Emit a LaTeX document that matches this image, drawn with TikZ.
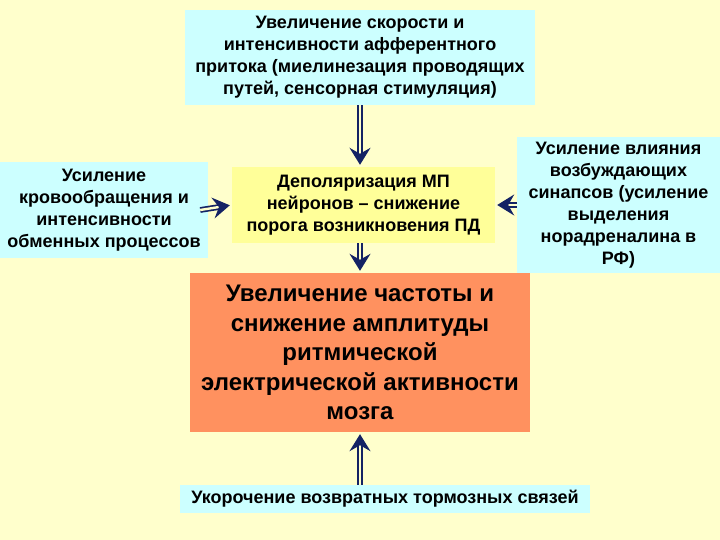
\documentclass[tikz,border=0pt]{standalone}
\usepackage{fontspec}
\setmainfont{Liberation Sans}
\definecolor{bgyellow}{RGB}{255,255,204}
\definecolor{boxcyan}{RGB}{204,255,255}
\definecolor{boxyellow}{RGB}{255,255,153}
\definecolor{boxorange}{RGB}{255,145,95}
\definecolor{arrownavy}{RGB}{20,35,100}
\usetikzlibrary{positioning,arrows.meta,calc}

\tikzset{
    factor/.style={fill=boxcyan, align=center, inner sep=0pt, font=\fontsize{18}{22}\selectfont\bfseries},
    dblarrow/.style={draw=arrownavy, line width=1.7pt, double=bgyellow, double distance=2.4pt,
        -{Stealth[length=17pt, width=21pt, inset=6pt]}, shorten >=2pt}
}

\begin{document}
\begin{tikzpicture}[x=1pt, y=1pt]
    % Background
    \fill[bgyellow] (0,0) rectangle (720,540);
    \useasboundingbox (0,0) rectangle (720,540);

    % Boxes
    \node[factor, minimum width=350, minimum height=95] (afferent) at (360,482.5)
        {Увеличение скорости и\\интенсивности афферентного\\притока (миелинезация проводящих\\путей, сенсорная стимуляция)};
    \node[factor, minimum width=208, minimum height=96] (blood) at (104,330)
        {Усиление\\кровообращения и\\интенсивности\\обменных процессов};
    \node[factor, fill=boxyellow, minimum width=263, minimum height=76] (depol) at (363.5,335)
        {Деполяризация МП\\нейронов – снижение\\порога возникновения ПД};
    \node[factor, minimum width=203, minimum height=136] (synapse) at (618.5,335)
        {Усиление влияния\\возбуждающих\\синапсов (усиление\\выделения\\норадреналина в\\РФ)};
    \node[factor, fill=boxorange, minimum width=340, minimum height=159,
          font=\fontsize{24}{29.5}\selectfont\bfseries] (rhythm) at (360,187.5)
        {Увеличение частоты и\\снижение амплитуды\\ритмической\\электрической активности\\мозга};
    \node[factor, minimum width=410, minimum height=28] (inhib) at (385,41)
        {Укорочение возвратных тормозных связей};

    % Arrows
    \draw[dblarrow] (afferent.south) -- (afferent.south |- depol.north);
    \draw[dblarrow] ([xshift=-8pt]blood.east) -- (depol.west);
    \draw[dblarrow] (synapse.west) -- (depol.east);
    \draw[dblarrow] (rhythm.north |- depol.south) -- (rhythm.north);
    \draw[dblarrow] (rhythm.south |- inhib.north) -- (rhythm.south);
\end{tikzpicture}
\end{document}
